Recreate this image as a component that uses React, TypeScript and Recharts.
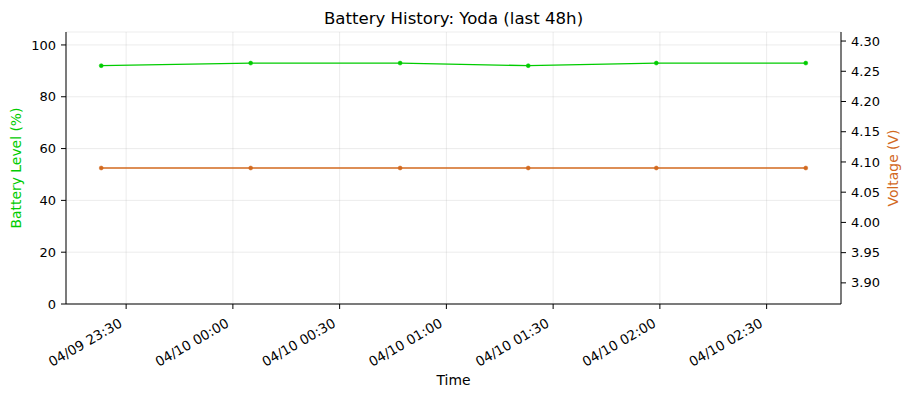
import { LineChart, Line, XAxis, YAxis, CartesianGrid } from "recharts";

// readings (local time, MM/DD HH:mm)
const times = ["04/09 23:23", "04/10 00:05", "04/10 00:47", "04/10 01:23", "04/10 01:59", "04/10 02:41"];
const battery = [92, 93, 93, 92, 93, 93];
const voltage = [4.09, 4.09, 4.09, 4.09, 4.09, 4.09];

const timeTicks = ["04/09 23:30", "04/10 00:00", "04/10 00:30", "04/10 01:00", "04/10 01:30", "04/10 02:00", "04/10 02:30"];
const batteryTicks = [0, 20, 40, 60, 80, 100];
const voltageTicks = [3.9, 3.95, 4.0, 4.05, 4.1, 4.15, 4.2, 4.25, 4.3];

const FONT = "'DejaVu Sans', sans-serif";
const GREEN = "#00cc00";
const ORANGE = "#d2691e";

// minutes relative to 04/10 00:00
function toMinutes(s: string) {
  const day = parseInt(s.slice(3, 5), 10);
  const hh = parseInt(s.slice(6, 8), 10);
  const mm = parseInt(s.slice(9, 11), 10);
  return (day - 10) * 1440 + hh * 60 + mm;
}

function fmtMinutes(m: number) {
  const day = 10 + Math.floor(m / 1440);
  const r = ((m % 1440) + 1440) % 1440;
  const hh = Math.floor(r / 60);
  const mm = Math.round(r % 60);
  const p = (n: number) => String(n).padStart(2, "0");
  return `04/${p(day)} ${p(hh)}:${p(mm)}`;
}

const data = times.map((t, i) => ({ t: toMinutes(t), battery: battery[i], voltage: voltage[i] }));

// matplotlib-like 5% margins
const tMin = Math.min(...data.map((d) => d.t));
const tMax = Math.max(...data.map((d) => d.t));
const tPad = (tMax - tMin) * 0.05;
const xDomain = [tMin - tPad, tMax + tPad];

const vMin = Math.min(...voltage);
const vMax = Math.max(...voltage);
const vLo = vMin === vMax ? vMin * 0.95 : vMin;
const vHi = vMin === vMax ? vMax * 1.05 : vMax;
const vPad = (vHi - vLo) * 0.05;
const vDomain = [vLo - vPad, vHi + vPad];

const XTick = (props: any) => {
  const { x, y, payload } = props;
  const ax = x - 3;
  const ay = y + 15;
  return (
    <text x={ax} y={ay} textAnchor="end" fontSize={13.5} fill="#000" fontFamily={FONT} transform={`rotate(-30 ${ax} ${ay})`}>
      {fmtMinutes(payload.value)}
    </text>
  );
};

export default function App() {
  const tickStyle = { fontSize: 13, fill: "#000", fontFamily: FONT };
  return (
    <div style={{ position: "absolute", left: 0, top: 0, width: 910, height: 397, background: "#fff", fontFamily: FONT }}>
      <div style={{ position: "absolute", left: 453.5, top: 18, transform: "translate(-50%, -50%)", fontSize: 16.6, whiteSpace: "nowrap", color: "#000" }}>
        Battery History: Yoda (last 48h)
      </div>
      <div style={{ position: "absolute", left: 16, top: 168, transform: "translate(-50%, -50%) rotate(-90deg)", fontSize: 13.9, whiteSpace: "nowrap", color: GREEN }}>
        Battery Level (%)
      </div>
      <div style={{ position: "absolute", left: 893, top: 168, transform: "translate(-50%, -50%) rotate(-90deg)", fontSize: 13.9, whiteSpace: "nowrap", color: ORANGE }}>
        Voltage (V)
      </div>
      <div style={{ position: "absolute", left: 453.5, top: 380, transform: "translate(-50%, -50%)", fontSize: 13.9, whiteSpace: "nowrap", color: "#000" }}>
        Time
      </div>
      <LineChart width={910} height={397} data={data} margin={{ top: 32, right: 0, bottom: 0, left: 0 }}>
        <CartesianGrid xAxisId="bottom" yAxisId="left" stroke="#b0b0b0" strokeOpacity={0.3} strokeWidth={0.8} />
        <XAxis
          xAxisId="bottom"
          dataKey="t"
          type="number"
          domain={xDomain}
          ticks={timeTicks.map(toMinutes)}
          allowDataOverflow
          height={93}
          tick={<XTick />}
          tickSize={5}
          tickLine={{ stroke: "#000" }}
          axisLine={{ stroke: "#000" }}
          interval={0}
        />
        <XAxis xAxisId="top" dataKey="t" type="number" domain={xDomain} orientation="top" height={0} tick={false} tickLine={false} axisLine={{ stroke: "#000" }} />
        <YAxis
          yAxisId="left"
          domain={[0, 105]}
          ticks={batteryTicks}
          width={66}
          tick={tickStyle}
          tickSize={5}
          tickMargin={5}
          tickLine={{ stroke: "#000" }}
          axisLine={{ stroke: "#000" }}
          interval={0}
        />
        <YAxis
          yAxisId="right"
          orientation="right"
          domain={vDomain}
          ticks={voltageTicks}
          allowDataOverflow
          width={69}
          tick={tickStyle}
          tickFormatter={(v: number) => v.toFixed(2)}
          tickSize={5}
          tickMargin={5}
          tickLine={{ stroke: "#000" }}
          axisLine={{ stroke: "#000" }}
          interval={0}
        />
        <Line
          xAxisId="bottom"
          yAxisId="left"
          type="linear"
          dataKey="battery"
          stroke={GREEN}
          strokeWidth={1.3}
          dot={{ r: 2, fill: GREEN, stroke: GREEN, strokeWidth: 0.5 }}
          isAnimationActive={false}
        />
        <Line
          xAxisId="bottom"
          yAxisId="right"
          type="linear"
          dataKey="voltage"
          stroke={ORANGE}
          strokeWidth={1.3}
          dot={{ r: 2, fill: ORANGE, stroke: ORANGE, strokeWidth: 0.5 }}
          isAnimationActive={false}
        />
      </LineChart>
    </div>
  );
}
